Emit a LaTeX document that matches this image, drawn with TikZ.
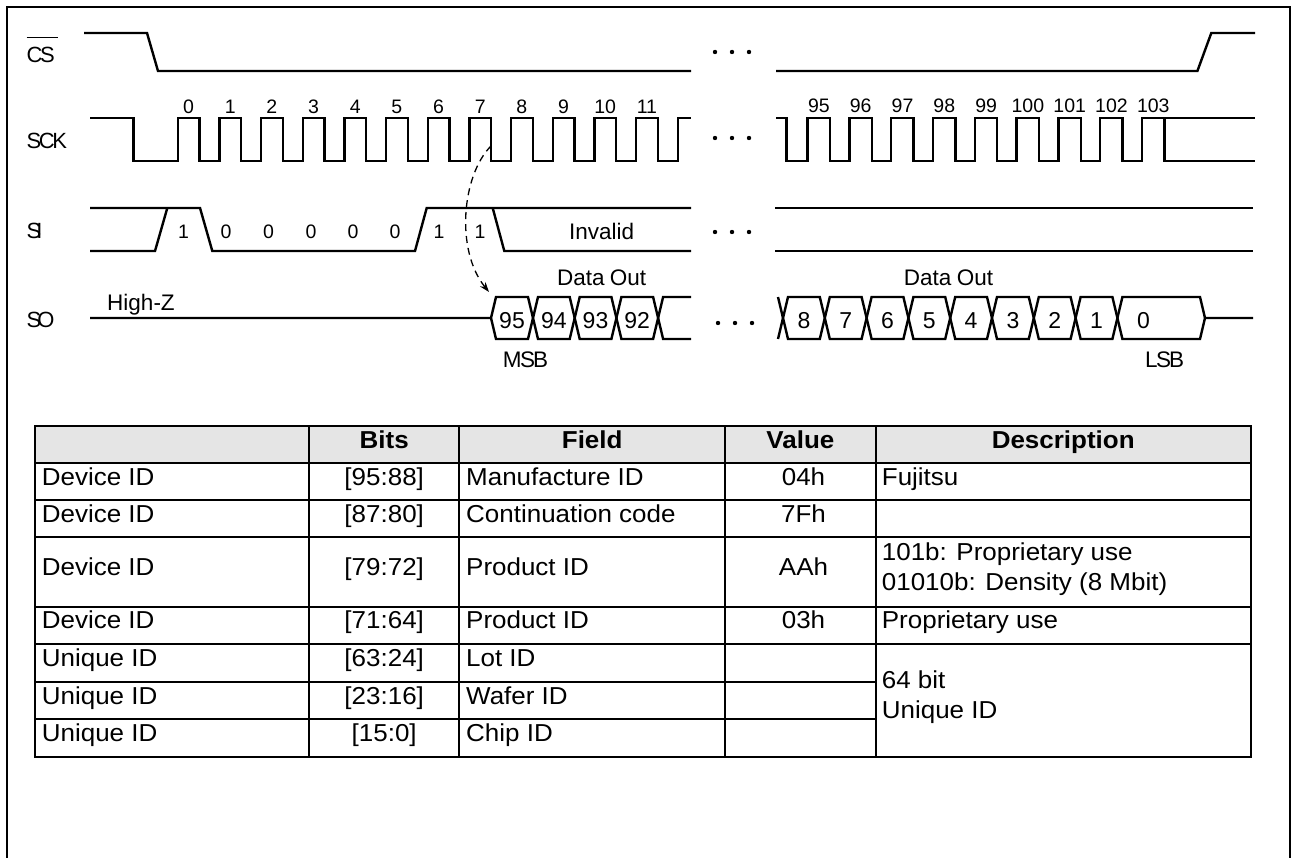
\documentclass[tikz,border=0pt]{standalone}
\usepackage{fontspec}
\setmainfont{Liberation Sans}
\newfontfamily\tblfont[FakeStretch=1.06]{Liberation Sans}
\usetikzlibrary{arrows.meta}
\begin{document}
\begin{tikzpicture}[x=1pt,y=-1pt,
  wave/.style={line width=2.4pt, line join=miter},
  sig/.style={font=\fontsize{22}{24}\selectfont, inner sep=0pt, anchor=base west},
  num/.style={font=\fontsize{19.5}{22}\selectfont, inner sep=0pt, anchor=base},
  txt/.style={font=\fontsize{22.5}{24}\selectfont, inner sep=0pt, anchor=base},
  hexn/.style={font=\fontsize{23}{24}\selectfont, inner sep=0pt, anchor=base},
  dotc/.style={fill=black},
  grid/.style={line width=2.2pt},
  th/.style={font=\tblfont\bfseries\fontsize{24.5}{28}\selectfont, inner sep=0pt, anchor=base},
  tdl/.style={font=\tblfont\fontsize{24.5}{28}\selectfont, inner sep=0pt, anchor=base west},
  tdc/.style={font=\tblfont\fontsize{24.5}{28}\selectfont, inner sep=0pt, anchor=base},
  dasharrow/.style={line width=1.3pt, dash pattern=on 7pt off 5pt, -{Stealth[length=10pt,width=7pt]}}
]
\useasboundingbox (0,0) rectangle (1296,858);
% frame
\draw[line width=2.5pt] (7,862) -- (7,7) -- (1290,7) -- (1290,862);

% ---------- signal labels
\node[sig] (lcs) at (26.5,62.3) {C\kern-2.5pt S};
\draw[line width=1.3pt] ([yshift=9pt]lcs.north west) -- ([xshift=3pt,yshift=9pt]lcs.north east);
\node[sig] (lsck) at (26.5,148.3) {S\kern-2.5pt C\kern-2.5pt K};
\node[sig] (lsi) at (26.5,238.3) {S\kern-5pt I};
\node[sig] (lso) at (26.5,327.5) {S\kern-4pt O};

% ---------- CS
\draw[wave] (84,33) -- (147,33) -- (158,71) -- (691,71);
\draw[wave] (776,71) -- (1197.4,71) -- (1211.3,33) -- (1255,33);

% ---------- SCK
\draw[wave] (90,118) -- (133.3,118) -- (133.3,161) -- (177.7,161)
  \foreach \k in {0,...,11}{ -- ({177.7+41.67*\k},161) -- ({177.7+41.67*\k},118) -- ({199.4+41.67*\k},118) -- ({199.4+41.67*\k},161) }
  -- (677.7,161) -- (677.7,118) -- (691,118);
\foreach \k in {0,...,11} \node[num] (ck\k) at ({188.5+41.67*\k},113.3) {\k};

\draw[wave] (776,118) -- (786.6,118) -- (786.6,161) -- (807.5,161)
  \foreach \k in {0,...,7}{ -- ({807.5+41.8*\k},161) -- ({807.5+41.8*\k},118) -- ({829.9+41.8*\k},118) -- ({829.9+41.8*\k},161) }
  -- (1141.9,161) -- (1141.9,118) -- (1255,118);
\draw[wave] (1164.3,118) -- (1164.3,161) -- (1255,161);
\foreach \n [count=\k from 0] in {95,...,103} \node[num] (ckr\n) at ({818.9+41.8*\k},112.3) {\n};

% ---------- SI
\draw[wave] (90,208) -- (200,208) -- (212.3,251) -- (415,251) -- (426.7,208) -- (691,208);
\draw[wave] (90,251) -- (155,251) -- (167.3,208);
\draw[wave] (492.7,208) -- (504.3,251) -- (691,251);
\draw[wave] (775,208) -- (1253,208);
\draw[wave] (775,251) -- (1253,251);
\foreach \v/\x [count=\i] in {1/183.5,0/226,0/268.5,0/311,0/353,0/395,1/439,1/480}
  \node[num] (si\i) at (\x,238.3) {\v};
\node[txt] (inv) at (601.7,239.3) {Invalid};

% ---------- SO
\draw[wave] (90,318) -- (491,318) -- (496,297) -- (528,297) -- (538,339) -- (569.7,339) -- (579.7,297) -- (611.4,297) -- (621.4,339) -- (653.1,339) -- (663.1,297) -- (691,297);
\draw[wave] (491,318) -- (496,339) -- (528,339) -- (538,297) -- (569.7,297) -- (579.7,339) -- (611.4,339) -- (621.4,297) -- (653.1,297) -- (663.1,339) -- (691,339);
\draw[wave] (778,297) -- (788,339) -- (819.8,339) -- (829.8,297) -- (861.6,297) -- (871.6,339) -- (903.4,339) -- (913.4,297) -- (945.2,297) -- (955.2,339) -- (987,339) -- (997,297) -- (1028.8,297) -- (1038.8,339) -- (1070.6,339) -- (1080.6,297) -- (1112.4,297) -- (1122.4,339) -- (1200,339) -- (1205,318) -- (1253,318);
\draw[wave] (778,339) -- (788,297) -- (819.8,297) -- (829.8,339) -- (861.6,339) -- (871.6,297) -- (903.4,297) -- (913.4,339) -- (945.2,339) -- (955.2,297) -- (987,297) -- (997,339) -- (1028.8,339) -- (1038.8,297) -- (1070.6,297) -- (1080.6,339) -- (1112.4,339) -- (1122.4,297) -- (1200,297) -- (1205,318);
\foreach \v/\x in {95/512,94/553.8,93/595.5,92/637.2,8/803.9,7/845.7,6/887.5,5/929.3,4/971.1,3/1012.9,2/1054.7,1/1096.5,0/1143.5}
  \node[hexn] (so\v) at (\x,328.3) {\v};
\node[txt] (hiz) at (141,311) {High-Z};
\node[txt] (dol) at (601.7,286) {Data\kern-1pt\ Out};
\node[txt] (dor) at (948.5,286) {Data\kern-1pt\ Out};
\node[txt,anchor=base west] (msb) at (502.7,367.5) {M\kern-1.5pt S\kern-2pt B};
\node[txt,anchor=base west] (lsb) at (1145,367.5) {L\kern-1.5pt S\kern-2pt B};

% ---------- dots
\foreach \y/\s in {52/0,138/0,232/0,323/3}
  \foreach \x in {715,732,749} \fill[dotc] ({\x+\s},\y) circle (2.2pt);

% ---------- dashed arrow
\coordinate (arrS) at (491,146);
\coordinate (arrE) at (489,292);
\draw[dasharrow] (arrS) .. controls (462,175) and (455,250) .. (arrE);

% ---------- table
\fill[black!10] (35,426) rectangle (1250.7,462.7);
\draw[grid] (35,426) rectangle (1250.7,756.7);
\foreach \y in {462.7,500,537.3,606.7,644} \draw[grid] (35,\y) -- (1250.7,\y);
\foreach \y in {681.7,719} \draw[grid] (35,\y) -- (875.7,\y);
\foreach \x in {309,459.3,725,875.7} \draw[grid] (\x,426) -- (\x,756.7);

\node[th] (hb) at (384.2,448.3) {Bits};
\node[th] (hf) at (592.2,448.3) {Field};
\node[th] (hv) at (800.4,448.3) {Value};
\node[th] (hd) at (1063.2,448.3) {Description};

\foreach \y/\a/\b/\f/\v [count=\i] in {
   485/Device ID/[95:88]/Manufacture ID/04h,
   522.3/Device ID/[87:80]/Continuation code/7Fh,
   575.7/Device ID/[79:72]/Product ID/AAh,
   628.5/Device ID/[71:64]/Product ID/03h,
   666.7/Unique ID/[63:24]/Lot ID/{},
   704/Unique ID/[23:16]/Wafer ID/{},
   741.7/Unique ID/[15:0]/Chip ID/{}} {
  \node[tdl] (ta\i) at (41.7,\y) {\a};
  \node[tdc] (tb\i) at (384.2,\y) {\b};
  \node[tdl] (tf\i) at (466,\y) {\f};
  \node[tdc] (tv\i) at (803.5,\y) {\v};
}
\node[tdl] (td1) at (881.7,485) {Fujitsu};
\node[tdl] (td3a) at (881.7,560) {101b: Proprietary use};
\node[tdl] (td3b) at (881.7,590) {01010b: Density (8 Mbit)};
\node[tdl] (td4) at (881.7,628.5) {Proprietary use};
\node[tdl] (td5a) at (881.7,688.3) {64 bit};
\node[tdl] (td5b) at (881.7,718.3) {Unique ID};
\end{tikzpicture}
\end{document}
